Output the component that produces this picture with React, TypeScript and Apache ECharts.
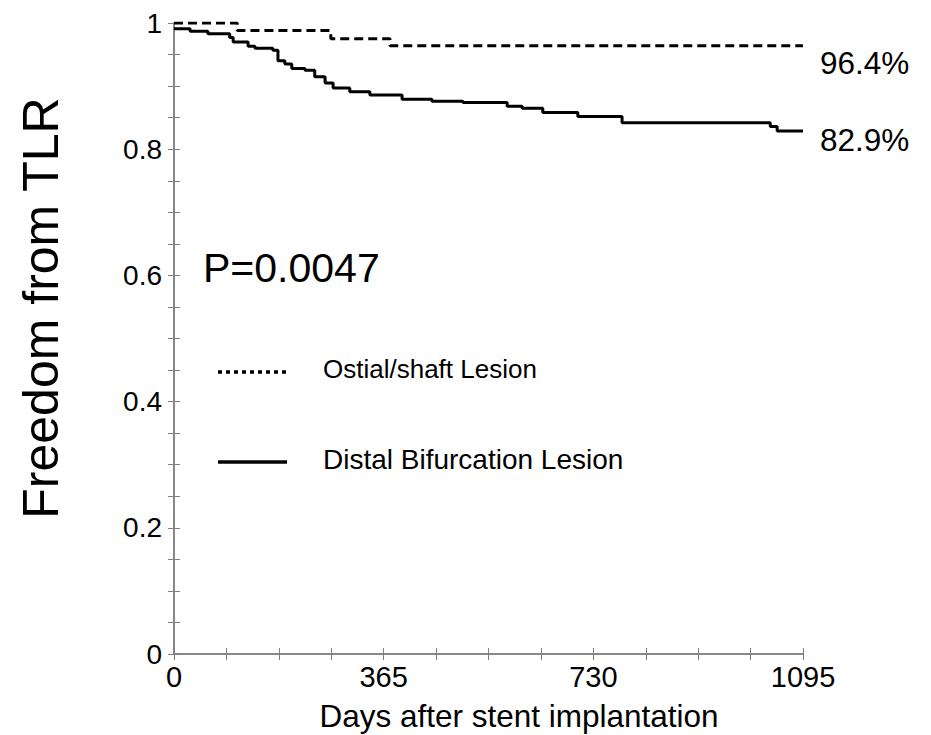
import React, { useEffect, useRef } from "react";
import * as echarts from "echarts";

const xTickLabels = [0, 365, 730, 1095];
const yTickLabels = [0, 0.2, 0.4, 0.6, 0.8, 1];

// Ostial/shaft Lesion (dashed)
const ostialDays = [0, 110, 273, 376, 1095];
const ostialValues = [1.0, 0.988, 0.975, 0.964, 0.964];

// Distal Bifurcation Lesion (solid)
const distalDays = [0, 28, 59, 97, 103, 129, 141, 172, 181, 193, 205, 228, 245, 263, 277, 306, 341, 397, 449, 503, 580, 606, 642, 703, 780, 1038, 1050, 1095];
const distalValues = [0.991, 0.987, 0.983, 0.977, 0.970, 0.963, 0.960, 0.957, 0.940, 0.935, 0.928, 0.925, 0.915, 0.905, 0.897, 0.891, 0.886, 0.879, 0.876, 0.874, 0.868, 0.865, 0.858, 0.852, 0.842, 0.836, 0.829, 0.829];

const legendNames = ["Ostial/shaft Lesion", "Distal Bifurcation Lesion"];
const endTexts = ["96.4%", "82.9%"];
const pText = "P=0.0047";
const xTitle = "Days after stent implantation";
const yTitle = "Freedom from TLR";

const FONT = "'Liberation Sans', Arial, Helvetica, sans-serif";
const AXIS = "#808080";

export default function App() {
  const ref = useRef<HTMLDivElement>(null);
  useEffect(() => {
    const chart = echarts.init(ref.current!, null, { renderer: "svg" });
    const axisCommon = {
      axisLine: { show: true, lineStyle: { color: AXIS, width: 1.5 } },
      axisTick: { show: true, inside: true, length: 6, lineStyle: { color: AXIS, width: 1 } },
      splitLine: { show: false },
    };
    chart.setOption({
      animation: false,
      backgroundColor: "#fff",
      textStyle: { fontFamily: FONT },
      grid: { left: 174, top: 23, width: 629, height: 631, outerBoundsMode: "none", containLabel: false },
      xAxis: [
        {
          type: "value", min: 0, max: 1095, interval: 91.25, position: "bottom",
          ...axisCommon,
          axisLabel: {
            fontSize: 29, color: "#000", fontFamily: FONT, margin: 8,
            formatter: (v: number) => (xTickLabels.some((t) => Math.abs(t - v) < 1e-6) ? String(Math.round(v)) : ""),
          },
        },
        {
          type: "value", min: 0, max: 1095, interval: 91.25, position: "top",
          ...axisCommon, axisLabel: { show: false },
        },
      ],
      yAxis: [
        {
          type: "value", min: 0, max: 1, interval: 0.05, position: "left",
          ...axisCommon,
          axisLabel: {
            fontSize: 28, color: "#000", fontFamily: FONT, margin: 12,
            formatter: (v: number) => (yTickLabels.some((t) => Math.abs(t - v) < 1e-6) ? String(Math.round(v * 10) / 10) : ""),
          },
        },
        {
          type: "value", min: 0, max: 1, interval: 0.05, position: "right",
          ...axisCommon, axisLabel: { show: false },
        },
      ],
      series: [
        {
          type: "line", name: legendNames[0], step: "end", symbol: "none",
          data: ostialDays.map((d, i) => [d, ostialValues[i]]),
          lineStyle: { color: "#000", width: 3, type: [9, 5] },
          endLabel: { show: true, formatter: endTexts[0], fontSize: 31.5, color: "#000", fontFamily: FONT, distance: 17, offset: [0, 17] },
        },
        {
          type: "line", name: legendNames[1], step: "end", symbol: "none",
          data: distalDays.map((d, i) => [d, distalValues[i]]),
          lineStyle: { color: "#000", width: 3, type: "solid" },
          endLabel: { show: true, formatter: endTexts[1], fontSize: 31.5, color: "#000", fontFamily: FONT, distance: 17, offset: [0, 9] },
        },
      ],
      graphic: [
        { type: "text", x: 41, y: 308, rotation: Math.PI / 2, style: { text: yTitle, fontSize: 50, fill: "#000", fontFamily: FONT, align: "center", verticalAlign: "middle" } },
        { type: "text", x: 519, y: 716, style: { text: xTitle, fontSize: 31.5, fill: "#000", fontFamily: FONT, align: "center", verticalAlign: "middle" } },
        { type: "text", left: 203, top: 247, style: { text: pText, fontSize: 41, fill: "#000", fontFamily: FONT } },
        { type: "line", shape: { x1: 218, y1: 372, x2: 287, y2: 372 }, style: { stroke: "#000", lineWidth: 3.5, lineDash: [4, 4] } },
        { type: "text", left: 323, top: 356, style: { text: legendNames[0], fontSize: 26, fill: "#000", fontFamily: FONT } },
        { type: "line", shape: { x1: 218, y1: 462, x2: 287, y2: 462 }, style: { stroke: "#000", lineWidth: 3.5 } },
        { type: "text", left: 323, top: 445, style: { text: legendNames[1], fontSize: 28, fill: "#000", fontFamily: FONT } },
      ],
    });
    return () => chart.dispose();
  }, []);
  return <div ref={ref} style={{ position: "fixed", left: 0, top: 0, width: 931, height: 735 }} />;
}
